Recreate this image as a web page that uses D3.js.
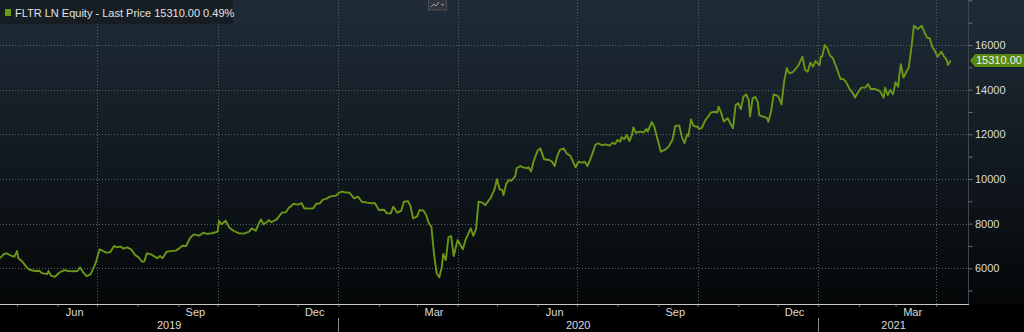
<!DOCTYPE html>
<html lang="en">
<head>
<meta charset="UTF-8">
<title>FLTR LN Equity</title>
<script src="https://d3js.org/d3.v7.min.js"></script>
<style>
  body { margin: 0; background: #000; }
  svg { display: block; font-family: "Liberation Sans", Arial, sans-serif; }
</style>
</head>
<body>
<div id="chart"></div>
<script>
// price history
const dates = [
  "2019-04-18","2019-04-21","2019-04-23","2019-04-27","2019-04-29","2019-05-01","2019-05-02","2019-05-05","2019-05-09","2019-05-11",
  "2019-05-15","2019-05-18","2019-05-20","2019-05-24","2019-05-25","2019-05-27","2019-05-30","2019-06-02","2019-06-06","2019-06-09",
  "2019-06-13","2019-06-16","2019-06-18","2019-06-21","2019-06-23","2019-06-26","2019-06-29","2019-06-30","2019-07-03","2019-07-05",
  "2019-07-08","2019-07-11","2019-07-14","2019-07-16","2019-07-19","2019-07-21","2019-07-24","2019-07-27","2019-07-30","2019-08-02",
  "2019-08-04","2019-08-06","2019-08-08","2019-08-11","2019-08-14","2019-08-16","2019-08-18","2019-08-20","2019-08-23","2019-08-26",
  "2019-08-30","2019-09-02","2019-09-04","2019-09-07","2019-09-10","2019-09-13","2019-09-17","2019-09-20","2019-09-23","2019-09-27",
  "2019-10-01","2019-10-02","2019-10-04","2019-10-07","2019-10-10","2019-10-13","2019-10-17","2019-10-21","2019-10-25","2019-10-27",
  "2019-10-30","2019-11-01","2019-11-03","2019-11-05","2019-11-08","2019-11-09","2019-11-11","2019-11-15","2019-11-19","2019-11-22",
  "2019-11-24","2019-11-28","2019-12-01","2019-12-04","2019-12-06","2019-12-10","2019-12-13","2019-12-15","2019-12-18","2019-12-20",
  "2019-12-23","2019-12-26","2019-12-30","2020-01-02","2020-01-04","2020-01-07","2020-01-09","2020-01-11","2020-01-13","2020-01-16",
  "2020-01-19","2020-01-23","2020-01-27","2020-01-29","2020-02-01","2020-02-05","2020-02-07","2020-02-10","2020-02-12","2020-02-15",
  "2020-02-18","2020-02-20","2020-02-23","2020-02-25","2020-02-27","2020-03-01","2020-03-03","2020-03-06","2020-03-08","2020-03-10",
  "2020-03-12","2020-03-14","2020-03-16","2020-03-18","2020-03-20","2020-03-21","2020-03-23","2020-03-25","2020-03-27","2020-03-29",
  "2020-04-01","2020-04-05","2020-04-07","2020-04-11","2020-04-13","2020-04-15","2020-04-17","2020-04-20","2020-04-22","2020-04-26",
  "2020-04-29","2020-05-01","2020-05-03","2020-05-05","2020-05-06","2020-05-08","2020-05-10","2020-05-12","2020-05-15","2020-05-16",
  "2020-05-19","2020-05-21","2020-05-24","2020-05-25","2020-05-27","2020-05-29","2020-06-01","2020-06-03","2020-06-06","2020-06-10",
  "2020-06-12","2020-06-14","2020-06-16","2020-06-18","2020-06-21","2020-06-23","2020-06-26","2020-06-30","2020-07-02","2020-07-05",
  "2020-07-07","2020-07-09","2020-07-12","2020-07-15","2020-07-17","2020-07-20","2020-07-23","2020-07-26","2020-07-28","2020-07-30",
  "2020-08-01","2020-08-03","2020-08-04","2020-08-06","2020-08-08","2020-08-10","2020-08-12","2020-08-13","2020-08-15","2020-08-18",
  "2020-08-21","2020-08-23","2020-08-24","2020-08-27","2020-08-29","2020-09-01","2020-09-03","2020-09-06","2020-09-09","2020-09-12",
  "2020-09-14","2020-09-17","2020-09-19","2020-09-21","2020-09-23","2020-09-24","2020-09-26","2020-09-28","2020-10-01","2020-10-02",
  "2020-10-04","2020-10-07","2020-10-09","2020-10-11","2020-10-14","2020-10-16","2020-10-17","2020-10-19","2020-10-21","2020-10-24",
  "2020-10-26","2020-10-28","2020-10-30","2020-11-01","2020-11-03","2020-11-05","2020-11-07","2020-11-09","2020-11-10","2020-11-12",
  "2020-11-14","2020-11-16","2020-11-17","2020-11-20","2020-11-23","2020-11-24","2020-11-26","2020-11-28","2020-12-01","2020-12-02",
  "2020-12-04","2020-12-06","2020-12-08","2020-12-10","2020-12-13","2020-12-17","2020-12-20","2020-12-22","2020-12-24","2020-12-26",
  "2020-12-28","2020-12-30","2021-01-02","2021-01-03","2021-01-04","2021-01-06","2021-01-08","2021-01-10","2021-01-12","2021-01-15",
  "2021-01-18","2021-01-20","2021-01-22","2021-01-25","2021-01-28","2021-01-29","2021-02-01","2021-02-03","2021-02-06","2021-02-08",
  "2021-02-10","2021-02-13","2021-02-17","2021-02-20","2021-02-21","2021-02-23","2021-02-25","2021-02-27","2021-03-01","2021-03-03",
  "2021-03-04","2021-03-05","2021-03-07","2021-03-10","2021-03-11","2021-03-13","2021-03-15","2021-03-18","2021-03-21","2021-03-23",
  "2021-03-25","2021-03-27","2021-03-29","2021-03-31","2021-04-02","2021-04-05","2021-04-07","2021-04-09","2021-04-10","2021-04-12"
];
const prices = [
  6450,6640,6670,6550,6520,6770,6450,6300,6000,5920,
  5880,5890,5780,5740,5880,5660,5620,5800,5920,5880,
  5870,5880,6040,5780,5650,5730,6100,6250,6850,6790,
  6700,6720,7000,6940,6970,6880,6940,6850,6600,6470,
  6300,6300,6670,6630,6520,6450,6550,6450,6740,6770,
  6790,6900,7010,7000,7370,7520,7460,7590,7540,7570,
  7640,8130,7970,8130,7820,7680,7570,7550,7640,7790,
  7680,7940,8190,7970,8090,8160,8060,8190,8490,8510,
  8690,8890,8850,8920,8690,8670,8690,8880,8910,9060,
  9120,9220,9250,9400,9430,9390,9400,9280,9130,9210,
  8980,8940,8910,8910,8610,8620,8460,8460,8760,8490,
  8580,8980,9010,8800,8240,8310,8610,8580,8390,8020,
  7860,6640,5780,5600,6070,6640,6370,7390,7450,6550,
  7270,6850,7270,7790,7450,7750,8980,8940,8830,9130,
  9510,9990,9540,9510,9280,9770,9950,9920,10130,10480,
  10580,10520,10480,10520,10330,10800,11270,11370,10880,10850,
  10770,10580,11030,11300,11370,11150,11030,10520,10770,10730,
  10770,10580,11000,11520,11600,11510,11550,11490,11620,11570,
  11750,11670,11870,11780,11970,11700,11970,12310,12070,12120,
  12090,12240,12120,12550,12340,11670,11220,11300,11450,11780,
  12370,12400,11890,11600,12000,11920,12670,12370,12340,12240,
  12270,12640,12790,12970,13010,12970,13240,12970,12570,12720,
  12490,12270,13310,13390,13130,13680,13790,13540,12790,13610,
  13680,13430,12860,12790,12720,12560,13010,13790,13720,13640,
  13340,14360,14960,14730,14800,15100,15480,14880,14800,15210,
  15030,15280,15100,15480,15480,16000,15850,15520,15430,14980,
  14480,14480,14360,14030,13790,13640,13940,14090,14090,14250,
  14030,14030,13940,13640,14090,13760,13980,13790,14330,14130,
  14730,15140,14540,14880,14980,15850,16860,16720,16860,16570,
  16330,16300,15920,15730,15480,15700,15480,15330,15100,15310
];

const yTicks = [6000, 8000, 10000, 12000, 14000, 16000];
const quarterLines = ["2019-07-01","2019-10-01","2020-01-01","2020-04-01","2020-07-01","2020-10-01","2021-01-01","2021-04-01"];
const monthLabels = ["Jun", "Sep", "Dec", "Mar"];
const years = ["2019", "2020", "2021"];
const legendText = "FLTR LN Equity - Last Price 15310.00 0.49%";
const lastLabel = "15310.00";

const W = 1024, H = 332;
const plotW = 968, plotB = 304;
const parse = d3.timeParse("%Y-%m-%d");
const data = dates.map((d, i) => ({ date: parse(d), value: prices[i] }));

const svg = d3.select("#chart").append("svg")
  .attr("width", W)
  .attr("height", H);

const defs = svg.append("defs");
const grad = defs.append("linearGradient")
  .attr("id", "bg").attr("x1", 0).attr("y1", 0).attr("x2", 0).attr("y2", 1);
grad.append("stop").attr("offset", "0%").attr("stop-color", "#1f2c38");
grad.append("stop").attr("offset", "50%").attr("stop-color", "#121a21");
grad.append("stop").attr("offset", "100%").attr("stop-color", "#050708");

svg.append("rect").attr("width", W).attr("height", H).attr("fill", "#000");
svg.append("rect").attr("width", W).attr("height", plotB).attr("fill", "url(#bg)");

const x = d3.scaleTime()
  .domain([parse("2019-04-18"), parse("2021-04-26")])
  .range([0, 969]);

const y = d3.scaleLinear()
  .domain([4400, 18015])
  .range([plotB, 0]);

// grid
svg.append("g")
  .selectAll("line")
  .data(yTicks)
  .join("line")
    .attr("x1", 0).attr("x2", plotW)
    .attr("y1", d => Math.round(y(d)) + 0.5)
    .attr("y2", d => Math.round(y(d)) + 0.5)
    .attr("stroke", "#5a6066")
    .attr("stroke-dasharray", "1,2");

svg.append("g")
  .selectAll("line")
  .data(quarterLines.map(parse))
  .join("line")
    .attr("x1", d => Math.round(x(d)) + 0.5)
    .attr("x2", d => Math.round(x(d)) + 0.5)
    .attr("y1", 0).attr("y2", plotB)
    .attr("stroke", "#5a6066")
    .attr("stroke-dasharray", "1,2");

// right axis
const yMinor = d3.range(5000, 18001, 1000);
const yAxis = svg.append("g")
  .attr("transform", `translate(${plotW + 0.5},0)`)
  .call(d3.axisRight(y).tickValues(yMinor).tickSize(4).tickFormat(""));
yAxis.select(".domain").attr("stroke", "#3e464e").attr("d", `M0,0V${plotB}`);
yAxis.selectAll(".tick line").attr("stroke", "#6a7078");

svg.append("g")
  .selectAll("text")
  .data(yTicks)
  .join("text")
    .attr("x", 975)
    .attr("y", d => y(d) + 4)
    .attr("fill", "#dcdcdc")
    .attr("font-size", 11)
    .text(d => d);

// x axis
const months = d3.timeMonth.range(parse("2019-05-01"), parse("2021-04-26"));
const xAxis = svg.append("g")
  .attr("transform", `translate(0,${plotB + 0.5})`)
  .call(d3.axisBottom(x).tickValues(months).tickSize(2).tickFormat(""));
xAxis.select(".domain").attr("stroke", "#c8c8c8").attr("d", `M0,0H969`);
xAxis.selectAll(".tick line").attr("stroke", "#9a9a9a");

const fmtMonth = d3.timeFormat("%b");
svg.append("g")
  .selectAll("text")
  .data(months.filter(m => monthLabels.includes(fmtMonth(m))))
  .join("text")
    .attr("x", d => x(d3.timeDay.offset(d, 13)))
    .attr("y", 316)
    .attr("text-anchor", "middle")
    .attr("fill", "#dcdcdc")
    .attr("font-size", 11)
    .text(d => fmtMonth(d));

const yearSpans = years.map(yr => {
  const a = Math.max(0, x(parse(yr + "-01-01")));
  const b = Math.min(969, x(parse((+yr + 1) + "-01-01")));
  return { yr, a, b };
});
svg.append("g")
  .selectAll("text")
  .data(yearSpans)
  .join("text")
    .attr("x", d => (d.a + d.b) / 2)
    .attr("y", 329)
    .attr("text-anchor", "middle")
    .attr("fill", "#dcdcdc")
    .attr("font-size", 11)
    .text(d => d.yr);

svg.append("g")
  .selectAll("line")
  .data(yearSpans.filter(d => d.a > 0))
  .join("line")
    .attr("x1", d => Math.round(d.a) + 0.5)
    .attr("x2", d => Math.round(d.a) + 0.5)
    .attr("y1", 318).attr("y2", H)
    .attr("stroke", "#8a8a8a");

// price line
svg.append("path")
  .datum(data)
  .attr("fill", "none")
  .attr("stroke", "#6a9816")
  .attr("stroke-width", 1.9)
  .attr("stroke-linejoin", "round")
  .attr("d", d3.line().x(d => x(d.date)).y(d => y(d.value)));

// last price tag
const last = data[data.length - 1];
const ty = y(last.value);
svg.append("path")
  .attr("d", `M970,${ty} L975,${ty - 6.5} H1024 V${ty + 6.5} H975 Z`)
  .attr("fill", "#578a0c");
svg.append("text")
  .attr("x", 976)
  .attr("y", ty + 4)
  .attr("fill", "#f2f2f2")
  .attr("font-size", 11)
  .text(lastLabel);

// legend
svg.append("rect")
  .attr("x", 0).attr("y", 0)
  .attr("width", 233).attr("height", 24)
  .attr("fill", "#151b20")
  .attr("opacity", 0.85);
svg.append("rect")
  .attr("x", 5).attr("y", 9)
  .attr("width", 6).attr("height", 7)
  .attr("fill", "#6a9a12");
svg.append("text")
  .attr("x", 15).attr("y", 17)
  .attr("fill", "#e2e2e2")
  .attr("font-size", 11)
  .text(legendText);

// small toolbar icon
svg.append("rect")
  .attr("x", 428.5).attr("y", -1)
  .attr("width", 18).attr("height", 11)
  .attr("fill", "#30363b")
  .attr("stroke", "#4a5056");
svg.append("path")
  .attr("d", "M431,7 L434,4 L436,6 L439,2")
  .attr("fill", "none")
  .attr("stroke", "#9aa0a6");
svg.append("path")
  .attr("d", "M441,4 h3 l-1.5,2 z")
  .attr("fill", "#9aa0a6");
</script>
</body>
</html>
